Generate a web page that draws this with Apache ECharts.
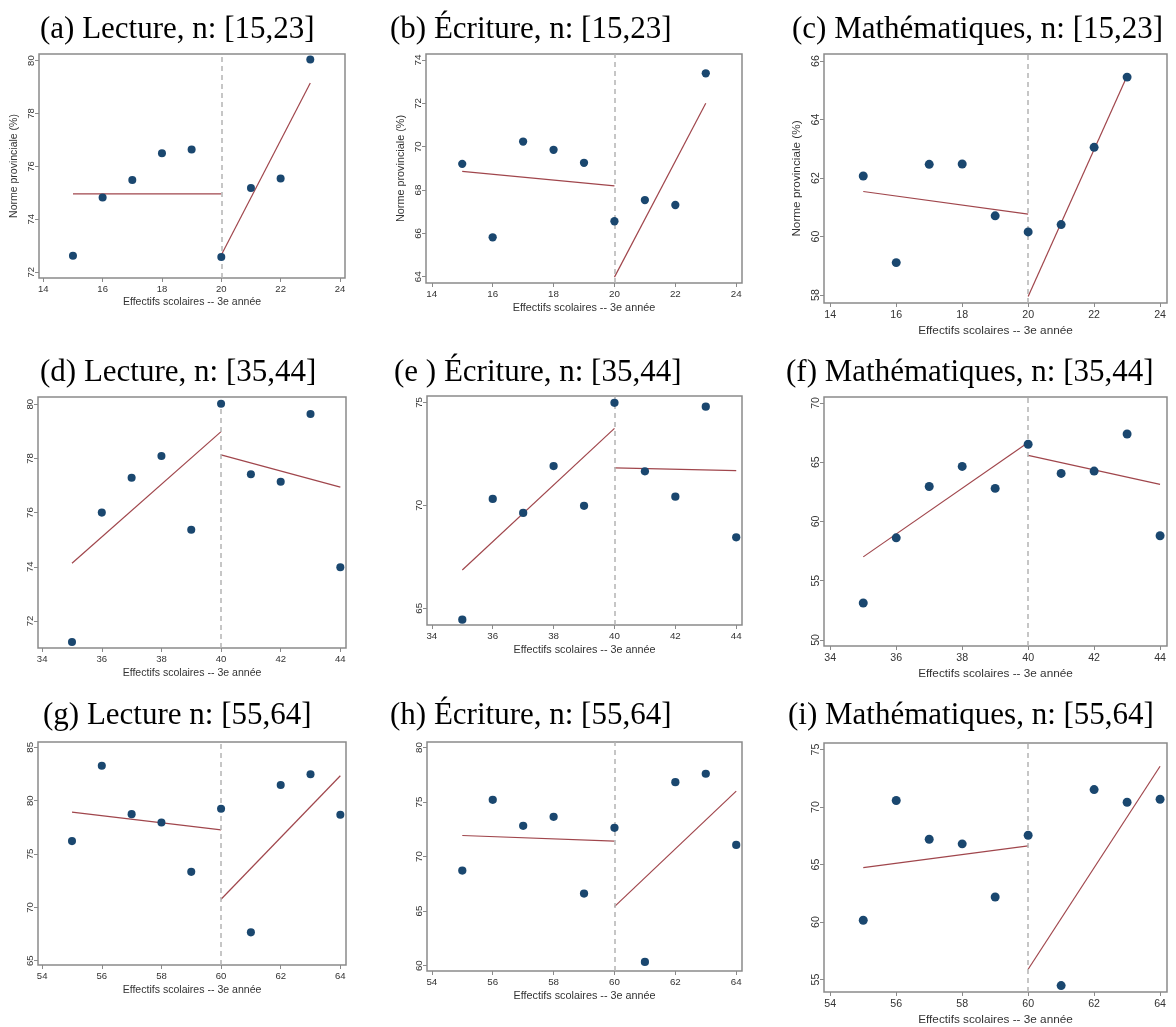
<!DOCTYPE html>
<html><head><meta charset="utf-8">
<script src="https://cdn.jsdelivr.net/npm/echarts@6/dist/echarts.min.js"></script>
<style>html,body{margin:0;padding:0;background:#fff}#c{width:1176px;height:1027px}</style>
</head><body><div id="c"></div>
<script>
// ---- data ----
const enrol15 = [15,16,17,18,19,20,21,22,23];
const enrol35 = [35,36,37,38,39,40,41,42,43,44];
const enrol55 = [55,56,57,58,59,60,61,62,63,64];
const cutoffs = [20,40,60];

const lecture15  = [72.62,74.82,75.49,76.50,76.64,72.57,75.18,75.54,80.04];
const ecriture15 = [69.21,65.82,70.24,69.86,69.26,66.56,67.54,67.31,73.39];
const maths15    = [62.07,59.11,62.47,62.48,60.71,60.16,60.41,63.05,65.45];
const lecture35  = [71.22,76.00,77.29,78.09,75.37,80.02,77.42,77.14,79.64,73.98];
const ecriture35 = [64.45,70.31,69.63,71.91,69.98,74.98,71.65,70.42,74.79,68.45];
const maths35    = [53.12,58.62,62.95,64.64,62.79,66.51,64.05,64.25,67.38,58.79];
const lecture55  = [76.21,83.28,78.74,77.96,73.33,79.24,67.66,81.47,82.47,78.68];
const ecriture55 = [68.72,75.20,72.82,73.64,66.61,72.63,60.34,76.82,77.59,71.07];
const maths55    = [60.16,70.57,67.20,66.80,62.18,67.55,54.48,71.52,70.42,70.68];

// fitted lines: [left start, left end (cutoff), right start (cutoff), right end]
const fitLecture15  = [74.96,74.96,72.65,79.15];
const fitEcriture15 = [68.86,68.19,63.98,72.01];
const fitMaths15    = [61.54,60.77,57.95,65.49];
const fitLecture35  = [74.13,78.99,78.13,76.94];
const fitEcriture35 = [66.86,73.74,71.82,71.69];
const fitMaths35    = [57.01,66.67,65.57,63.13];
const fitLecture55  = [78.93,77.27,70.76,82.34];
const fitEcriture55 = [71.93,71.41,65.41,76.00];
const fitMaths55    = [64.74,66.62,55.90,73.55];

// tick labels
const xTicks15 = [14,16,18,20,22,24];
const xTicks35 = [34,36,38,40,42,44];
const xTicks55 = [54,56,58,60,62,64];
const yTicksLecture15  = [72,74,76,78,80];
const yTicksEcriture15 = [64,66,68,70,72,74];
const yTicksMaths15    = [58,60,62,64,66];
const yTicksLecture35  = [72,74,76,78,80];
const yTicksEcriture35 = [65,70,75];
const yTicksMaths35    = [50,55,60,65,70];
const yTicksLecture55  = [65,70,75,80,85];
const yTicksEcriture55 = [60,65,70,75,80];
const yTicksMaths55    = [55,60,65,70,75];

const titles = [
  '(a) Lecture, n: [15,23]', '(b) \u00c9criture, n: [15,23]', '(c) Math\u00e9matiques, n: [15,23]',
  '(d) Lecture, n: [35,44]', '(e ) \u00c9criture, n: [35,44]', '(f) Math\u00e9matiques, n: [35,44]',
  '(g) Lecture n: [55,64]', '(h) \u00c9criture, n: [55,64]', '(i) Math\u00e9matiques, n: [55,64]'
];
const xTitle = 'Effectifs scolaires -- 3e ann\u00e9e';
const yTitle = 'Norme provinciale (%)';

// ---- layout ----
const panels = [
  {x: enrol15, y: lecture15,  fit: fitLecture15,  cut: cutoffs[0], xt: xTicks15, yt: yTicksLecture15,  box:[39,54,345,278],  xr:[13.855,24.17], yr:[71.78,80.25], yname:true,  tl:[35,9]},
  {x: enrol15, y: ecriture15, fit: fitEcriture15, cut: cutoffs[0], xt: xTicks15, yt: yTicksEcriture15, box:[426,54,742,283], xr:[13.81,24.19], yr:[63.71,74.28], yname:true,  tl:[385,9]},
  {x: enrol15, y: maths15,    fit: fitMaths15,    cut: cutoffs[0], xt: xTicks15, yt: yTicksMaths15,    box:[824,54,1167,303], xr:[13.81,24.21], yr:[57.73,66.24], yname:true,  tl:[787,9]},
  {x: enrol35, y: lecture35,  fit: fitLecture35,  cut: cutoffs[1], xt: xTicks35, yt: yTicksLecture35,  box:[38,397,346,648],  xr:[33.86,44.19], yr:[71.0,80.27],  yname:false, tl:[35,352]},
  {x: enrol35, y: ecriture35, fit: fitEcriture35, cut: cutoffs[1], xt: xTicks35, yt: yTicksEcriture35, box:[427,396,742,625], xr:[33.84,44.19], yr:[64.19,75.31], yname:false, tl:[389,352]},
  {x: enrol35, y: maths35,    fit: fitMaths35,    cut: cutoffs[1], xt: xTicks35, yt: yTicksMaths35,    box:[824,397,1167,646], xr:[33.81,44.21], yr:[49.49,70.5],  yname:false, tl:[781,352]},
  {x: enrol55, y: lecture55,  fit: fitLecture55,  cut: cutoffs[2], xt: xTicks55, yt: yTicksLecture55,  box:[38,742,346,965],  xr:[53.86,64.19], yr:[64.6,85.5],   yname:false, tl:[38,695]},
  {x: enrol55, y: ecriture55, fit: fitEcriture55, cut: cutoffs[2], xt: xTicks55, yt: yTicksEcriture55, box:[427,742,742,971], xr:[53.84,64.19], yr:[59.51,80.5],  yname:false, tl:[385,695]},
  {x: enrol55, y: maths55,    fit: fitMaths55,    cut: cutoffs[2], xt: xTicks55, yt: yTicksMaths55,    box:[824,743,1167,992], xr:[53.81,64.21], yr:[53.92,75.57], yname:false, tl:[783,695]}
];

const NAVY = '#1a476f', MAROON = '#a0464c', FRAME = '#8a8a8a';
const option = {backgroundColor:'#fff', animation:false, title:[], grid:[], xAxis:[], yAxis:[], series:[]};

panels.forEach((p, i) => {
  const [l, t, r, b] = p.box;
  const s = (r - l) / 306;
  option.title.push({text: titles[i], left: p.tl[0], top: p.tl[1],
    textStyle:{fontFamily:'Liberation Serif', fontSize:31, fontWeight:'normal', color:'#000'}});
  option.grid.push({left:l, top:t, width:r-l, height:b-t, show:true, borderColor:FRAME, borderWidth:1.5, backgroundColor:'#fff'});
  option.xAxis.push({type:'value', gridIndex:i, min:p.xr[0], max:p.xr[1],
    name: xTitle, nameLocation:'middle', nameGap: 19*s,
    nameTextStyle:{fontFamily:'Liberation Sans', fontSize:10.5*s, color:'#333'},
    axisLine:{show:false, onZero:false}, splitLine:{show:false},
    axisTick:{show:true, length:4, lineStyle:{color:FRAME}, customValues:p.xt},
    axisLabel:{fontFamily:'Liberation Sans', fontSize:9.5*s, color:'#333', margin:6.5, customValues:p.xt, showMinLabel:true, showMaxLabel:true}});
  option.yAxis.push({type:'value', gridIndex:i, min:p.yr[0], max:p.yr[1],
    name: p.yname ? yTitle : '', nameLocation:'middle', nameGap: 19*s,
    nameTextStyle:{fontFamily:'Liberation Sans', fontSize:10.5*s, color:'#333'},
    axisLine:{show:false, onZero:false}, splitLine:{show:false},
    axisTick:{show:true, length:4, lineStyle:{color:FRAME}, customValues:p.yt},
    axisLabel:{fontFamily:'Liberation Sans', fontSize:9.5*s, color:'#333', margin:7.5, rotate:90, customValues:p.yt, verticalAlign:'middle', align:'center'}});
  const n = p.x.length;
  // vertical cutoff line
  option.series.push({type:'line', xAxisIndex:i, yAxisIndex:i, data:[], silent:true,
    markLine:{symbol:'none', silent:true, label:{show:false},
      lineStyle:{color:'#b4b4b4', width:1.5, type:[5,4]}, data:[{xAxis:p.cut}]}});
  // fitted lines
  option.series.push({type:'line', xAxisIndex:i, yAxisIndex:i, showSymbol:false, silent:true,
    lineStyle:{color:MAROON, width:1.2}, data:[[p.x[0], p.fit[0]], [p.cut, p.fit[1]]]});
  option.series.push({type:'line', xAxisIndex:i, yAxisIndex:i, showSymbol:false, silent:true,
    lineStyle:{color:MAROON, width:1.2}, data:[[p.cut, p.fit[2]], [p.x[n-1], p.fit[3]]]});
  // points
  option.series.push({type:'scatter', xAxisIndex:i, yAxisIndex:i, symbolSize:8*s, silent:true,
    itemStyle:{color:NAVY, opacity:1}, data:p.x.map((v,k)=>[v, p.y[k]]), z:5});
});

const chart = echarts.init(document.getElementById('c'), null, {renderer:'canvas'});
chart.setOption(option);
</script></body></html>
